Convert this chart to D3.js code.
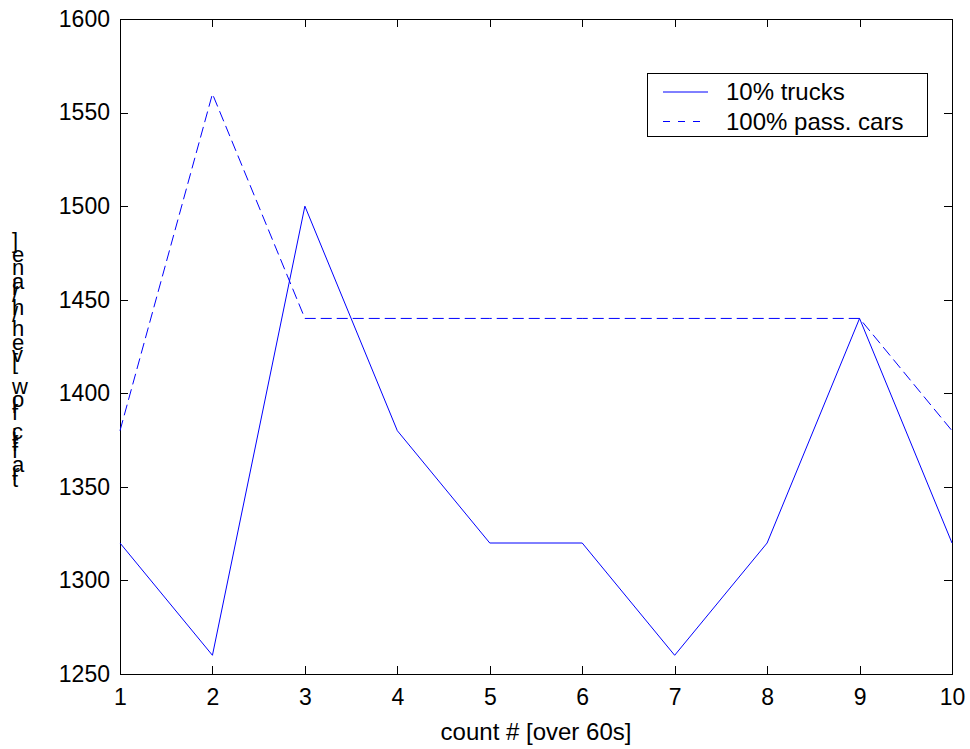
<!DOCTYPE html>
<html>
<head>
<meta charset="utf-8">
<script src="https://cdn.jsdelivr.net/npm/d3@7"></script>
<style>
  body { margin: 0; background: #fff; }
  svg text { font-family: "Liberation Sans", Arial, sans-serif; fill: #000; }
  .axis path, .axis line { stroke: #000; shape-rendering: crispEdges; }
</style>
</head>
<body>
<div id="chart"></div>
<script>
const counts = [1, 2, 3, 4, 5, 6, 7, 8, 9, 10];
const trucks10 = [1320, 1260, 1500, 1380, 1320, 1320, 1260, 1320, 1440, 1320];
const cars100 = [1380, 1560, 1440, 1440, 1440, 1440, 1440, 1440, 1440, 1380];
const yTicks = [1250, 1300, 1350, 1400, 1450, 1500, 1550, 1600];
const seriesNames = ['10% trucks', '100% pass. cars'];

const width = 970, height = 749;
const plotL = 120, plotR = 952, plotT = 19, plotB = 674;
const FONT = 23;
const BLUE = '#0000ff';

const svg = d3.select('#chart').append('svg')
  .attr('width', width)
  .attr('height', height);

const x = d3.scaleLinear().domain([1, 10]).range([plotL, plotR]);
const y = d3.scaleLinear().domain([1250, 1600]).range([plotB, plotT]);

// axes, ticks pointing inward on all four sides
svg.append('g')
  .attr('class', 'axis')
  .attr('transform', `translate(0,${plotB})`)
  .call(d3.axisBottom(x).tickValues(counts).tickFormat(d3.format('d'))
    .tickSizeInner(-8).tickSizeOuter(0).tickPadding(15))
  .selectAll('text').attr('font-size', FONT);

svg.append('g')
  .attr('class', 'axis')
  .attr('transform', `translate(0,${plotT})`)
  .call(d3.axisTop(x).tickValues(counts).tickFormat('')
    .tickSizeInner(-8).tickSizeOuter(0));

svg.append('g')
  .attr('class', 'axis')
  .attr('transform', `translate(${plotL},0)`)
  .call(d3.axisLeft(y).tickValues(yTicks).tickFormat(d3.format('d'))
    .tickSizeInner(-8).tickSizeOuter(0).tickPadding(10))
  .selectAll('text').attr('font-size', FONT);

svg.append('g')
  .attr('class', 'axis')
  .attr('transform', `translate(${plotR},0)`)
  .call(d3.axisRight(y).tickValues(yTicks).tickFormat('')
    .tickSizeInner(-8).tickSizeOuter(0));

svg.selectAll('.axis text').attr('font-family', '"Liberation Sans", Arial, sans-serif');

// lines
const line = (vals) => d3.line()
  .x((d, i) => x(counts[i]))
  .y(d => y(d))(vals);

svg.append('path')
  .attr('d', line(cars100))
  .attr('fill', 'none')
  .attr('stroke', BLUE)
  .attr('stroke-width', 1)
  .attr('stroke-dasharray', '11,5');

svg.append('path')
  .attr('d', line(trucks10))
  .attr('fill', 'none')
  .attr('stroke', BLUE)
  .attr('stroke-width', 1);

// legend
const lg = svg.append('g');
lg.append('rect')
  .attr('x', 647.5).attr('y', 73.5)
  .attr('width', 280).attr('height', 63)
  .attr('fill', '#fff').attr('stroke', '#000');
seriesNames.forEach((name, i) => {
  const ly = 92 + i * 29.5;
  lg.append('line')
    .attr('x1', 663).attr('x2', 708)
    .attr('y1', ly).attr('y2', ly)
    .attr('stroke', BLUE)
    .attr('stroke-dasharray', i === 1 ? '7,8' : null);
  lg.append('text')
    .attr('x', 726).attr('y', ly)
    .attr('dy', '0.35em')
    .attr('font-size', 24)
    .text(name);
});

// x axis title
svg.append('text')
  .attr('x', (plotL + plotR) / 2)
  .attr('y', 740)
  .attr('text-anchor', 'middle')
  .attr('font-size', 24)
  .text('count # [over 60s]');

// y axis title: upright glyphs stacked bottom-to-top
const yTitle = 'traffic flow [veh/h/lane]';
const yt = svg.append('g');
const probe = yt.append('text').attr('font-size', 22);
const advances = Array.from(yTitle).map(ch => {
  probe.text(ch === ' ' ? '\u00a0' : ch);
  return probe.node().getComputedTextLength();
});
probe.remove();
const totalAdv = d3.sum(advances.slice(0, -1));
const yStart = 487, yEnd = 248;
const k = (yStart - yEnd) / totalAdv;
let pos = 0;
Array.from(yTitle).forEach((ch, i) => {
  if (ch !== ' ') {
    yt.append('text')
      .attr('x', 12)
      .attr('y', yStart - pos * k)
      .attr('font-size', 22)
      .text(ch);
  }
  pos += advances[i];
});
</script>
</body>
</html>
